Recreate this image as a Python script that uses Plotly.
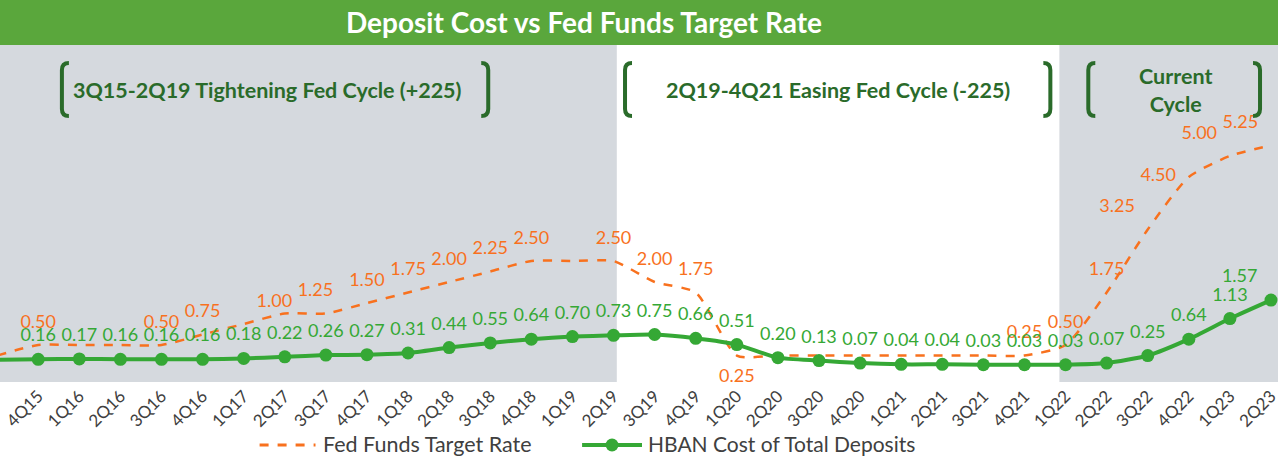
import plotly.graph_objects as go

quarters = ['3Q15', '4Q15', '1Q16', '2Q16', '3Q16', '4Q16', '1Q17', '2Q17', '3Q17', '4Q17',
            '1Q18', '2Q18', '3Q18', '4Q18', '1Q19', '2Q19', '3Q19', '4Q19', '1Q20', '2Q20',
            '3Q20', '4Q20', '1Q21', '2Q21', '3Q21', '4Q21', '1Q22', '2Q22', '3Q22', '4Q22',
            '1Q23', '2Q23']

fed_funds = [0.25, 0.50, 0.50, 0.50, 0.50, 0.75, 1.00, 1.25, 1.25, 1.50,
             1.75, 2.00, 2.25, 2.50, 2.50, 2.50, 2.00, 1.75, 0.25, 0.25,
             0.25, 0.25, 0.25, 0.25, 0.25, 0.25, 0.50, 1.75, 3.25, 4.50,
             5.00, 5.25]

# only some of the fed funds labels are shown in the original
fed_labels = ['', '0.50', '', '', '0.50', '0.75', '1.00', '1.25', '', '1.50',
              '1.75', '2.00', '2.25', '2.50', '', '2.50', '2.00', '1.75', '0.25', '',
              '', '', '', '', '', '0.25', '0.50', '1.75', '3.25', '4.50',
              '5.00', '5.25']

hban_cost = [0.15, 0.16, 0.17, 0.16, 0.16, 0.16, 0.18, 0.22, 0.26, 0.27,
             0.31, 0.44, 0.55, 0.64, 0.70, 0.73, 0.75, 0.66, 0.51, 0.20,
             0.13, 0.07, 0.04, 0.04, 0.03, 0.03, 0.03, 0.07, 0.25, 0.64,
             1.13, 1.57]

ORANGE = '#F8711E'
GREEN = '#35A835'
DARK_GREEN = '#2A6B2A'
GRAY_BG = '#D5D9DE'
TITLE_GREEN = '#5AA73C'
TEXT_GRAY = '#404040'
FONT = 'Lato'

W, H = 1280, 463
TOP, BOTTOM = 45, 382   # plot area in pixels


def px_x(x):
    return x / W


def px_y(y):
    return (BOTTOM - y) / (BOTTOM - TOP)


fed_pos = []
for q in quarters:
    if q == '1Q20':
        fed_pos.append('bottom center')
    elif q == '4Q22':
        fed_pos.append('middle left')
    elif q in ('3Q22', '1Q23', '2Q23'):
        fed_pos.append('top left')
    elif q in ('1Q17', '2Q17'):
        fed_pos.append('top right')
    else:
        fed_pos.append('top center')

hban_pos = ['top left' if q == '2Q23' else 'top center' for q in quarters]

fig = go.Figure()

fig.add_trace(go.Scatter(
    x=quarters, y=fed_funds, name='Fed Funds Target Rate', mode='lines',
    line=dict(color=ORANGE, width=2.5, dash='dash', shape='spline', smoothing=0.6),
))
fig.add_trace(go.Scatter(
    x=quarters, y=hban_cost, name='HBAN Cost of Total Deposits', mode='lines+markers',
    line=dict(color=GREEN, width=4, shape='spline', smoothing=0.6),
    marker=dict(size=13, color=GREEN),
))

# data labels (invisible markers just push the text away from the line)
fig.add_trace(go.Scatter(
    x=quarters, y=fed_funds, mode='markers+text', text=fed_labels, textposition=fed_pos,
    textfont=dict(color=ORANGE, size=18, family=FONT),
    marker=dict(size=19, opacity=0), showlegend=False, hoverinfo='skip', cliponaxis=False
))
fig.add_trace(go.Scatter(
    x=quarters, y=hban_cost, mode='markers+text', text=['%.2f' % v for v in hban_cost],
    textposition=hban_pos, textfont=dict(color=GREEN, size=18, family=FONT),
    marker=dict(size=20, opacity=0), showlegend=False, hoverinfo='skip', cliponaxis=False
))

shapes = [
    # shaded fed cycles
    dict(type='rect', xref='x', yref='paper', x0=-1, x1=15.08, y0=0, y1=1,
         fillcolor=GRAY_BG, line=dict(width=0), layer='below'),
    dict(type='rect', xref='x', yref='paper', x0=25.85, x1=33, y0=0, y1=1,
         fillcolor=GRAY_BG, line=dict(width=0), layer='below'),
    # title bar
    dict(type='rect', xref='paper', yref='paper', x0=0, x1=1, y0=1, y1=px_y(0),
         fillcolor=TITLE_GREEN, line=dict(width=0)),
    # legend symbols
    dict(type='line', xref='paper', yref='paper', x0=px_x(260), x1=px_x(316),
         y0=px_y(445), y1=px_y(445), line=dict(color=ORANGE, width=3, dash='dash')),
    dict(type='line', xref='paper', yref='paper', x0=px_x(583), x1=px_x(643),
         y0=px_y(445), y1=px_y(445), line=dict(color=GREEN, width=4)),
    dict(type='circle', xref='paper', yref='paper', x0=px_x(606.5), x1=px_x(619.5),
         y0=px_y(438.5), y1=px_y(451.5), fillcolor=GREEN, line=dict(width=0)),
]


def bracket(x, y0, y1, w, side):
    # rounded square bracket drawn as a path in paper coords
    d = 1 if side == 'left' else -1
    xa, xb = px_x(x), px_x(x + d * w)
    r = 7
    return dict(type='path', xref='paper', yref='paper',
                path='M %f,%f Q %f,%f %f,%f L %f,%f Q %f,%f %f,%f' % (
                    xb, px_y(y0), xa, px_y(y0), xa, px_y(y0 + r),
                    xa, px_y(y1 - r), xa, px_y(y1), xb, px_y(y1)),
                line=dict(color=DARK_GREEN, width=4))


for bx, side in [(62, 'left'), (489, 'right'), (626, 'left'), (1052, 'right'),
                 (1090, 'left'), (1262, 'right')]:
    shapes.append(bracket(bx, 63, 116, 7, side))


def note(text, x, y, size, color=DARK_GREEN, anchor='center'):
    return dict(text=text, xref='paper', yref='paper', x=px_x(x), y=px_y(y),
                xanchor=anchor, yanchor='middle', showarrow=False,
                font=dict(color=color, size=size, family=FONT))


annotations = [
    note('<b>Deposit Cost vs Fed Funds Target Rate</b>', 585, 22, 28, 'white'),
    note('<b>3Q15-2Q19 Tightening Fed Cycle (+225)</b>', 268, 90, 21.5),
    note('<b>2Q19-4Q21 Easing Fed Cycle (-225)</b>', 839, 90, 21.5),
    note('<b>Current<br>Cycle</b>', 1177, 90, 21.5),
    # legend text
    note('Fed Funds Target Rate', 322, 444, 21.5, TEXT_GRAY, 'left'),
    note('HBAN Cost of Total Deposits', 647, 444, 21, TEXT_GRAY, 'left'),
]

fig.update_layout(
    width=W, height=H,
    margin=dict(l=0, r=0, t=TOP, b=H - BOTTOM, pad=0),
    paper_bgcolor='white', plot_bgcolor='white',
    shapes=shapes, annotations=annotations,
    showlegend=False,
    xaxis=dict(range=[0.07, 31.17], tickangle=-45, showgrid=False, zeroline=False,
               showline=False, ticks='', tickfont=dict(size=17, color=TEXT_GRAY, family=FONT)),
    yaxis=dict(range=[-0.38, 7.64], visible=False, showgrid=False, zeroline=False),
)

fig.write_html('out.html', config={'displayModeBar': False},
               post_script="document.body.style.margin='0px';")
